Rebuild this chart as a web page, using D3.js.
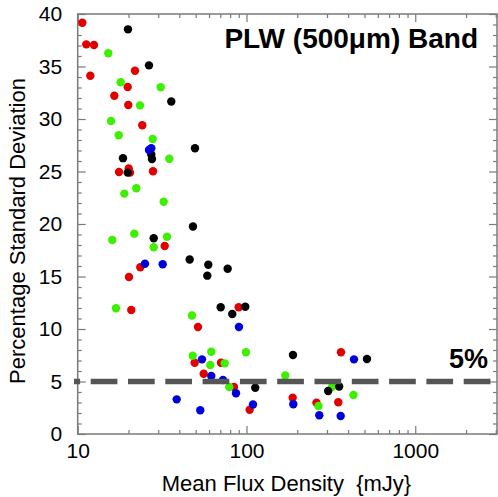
<!DOCTYPE html>
<html>
<head>
<meta charset="utf-8">
<script src="https://cdn.jsdelivr.net/npm/d3@7"></script>
<style>
  body { margin: 0; background: #fff; }
  text { font-family: Arial, "Liberation Sans", sans-serif; }
</style>
</head>
<body>
<script>
// flux density (mJy) and percentage standard deviation, one pair of arrays per colour
const redFlux = [10.65, 11.24, 12.49, 11.88, 21.85, 19.78, 16.48, 19.94, 24.14, 17.57, 20.05, 20.41, 27.93, 32.77, 23.49, 20.13, 20.77, 51.6, 49.33, 55.78, 70.62, 84.33, 89.91, 104.4, 187.8, 259.8, 349.9, 362.9];
const redSd   = [39.17, 37.11, 37.05, 34.12, 34.6, 33.05, 32.22, 31.33, 29.4, 24.95, 25.3, 24.89, 25.02, 17.9, 15.88, 14.95, 11.81, 10.19, 6.79, 5.74, 6.79, 4.48, 12.07, 2.31, 3.46, 2.97, 3.03, 7.78];

const greenFlux = [15.18, 17.97, 31.02, 23.39, 15.75, 17.5, 27.82, 34.89, 18.89, 22.24, 32.32, 16.03, 21.64, 33.81, 28.2, 16.86, 47.55, 48.01, 61.88, 61.03, 74.27, 99.3, 79.08, 169.8, 267, 321, 430.4];
const greenSd   = [36.26, 33.5, 33.02, 31.3, 29.81, 28.45, 28.1, 26.22, 22.89, 23.4, 22.12, 18.48, 19.08, 18.79, 17.78, 11.98, 11.29, 7.46, 7.84, 6.57, 6.73, 7.78, 4.48, 5.57, 2.67, 4.48, 3.71];

const blackFlux = [19.86, 26.45, 35.85, 49.54, 18.55, 27.29, 27.55, 19.78, 48.2, 28.2, 46.07, 59.39, 58.59, 77.36, 70.34, 82.38, 98.36, 112.7, 188.6, 304.8, 354.2, 517.5];
const blackSd   = [38.54, 35.11, 31.67, 27.21, 26.27, 26.62, 26.19, 24.89, 19.76, 18.64, 16.62, 16.12, 15.08, 15.74, 12.07, 11.43, 12.12, 4.4, 7.52, 4.1, 4.52, 7.14];

const blueFlux = [26.45, 27.29, 25.04, 31.88, 38.6, 53.24, 54.49, 61.88, 72.57, 86.66, 90.27, 109.3, 189.4, 270, 361.5, 433.4];
const blueSd   = [27.05, 27.21, 16.22, 16.16, 3.3, 2.26, 7.11, 5.52, 5.14, 3.88, 10.19, 2.81, 2.83, 1.78, 1.71, 7.11];

const xMajorTicks = [10, 100, 1000];
const yMajorTicks = [0, 5, 10, 15, 20, 25, 30, 35, 40];
const threshold = 5;

const series = [
  { flux: redFlux, sd: redSd, color: "#e00000" },
  { flux: greenFlux, sd: greenSd, color: "#3cf000" },
  { flux: blackFlux, sd: blackSd, color: "#000000" },
  { flux: blueFlux, sd: blueSd, color: "#0000dd" }
];

const width = 498, height = 497;
const plotLeft = 77.7, plotRight = 497, plotTop = 14, plotBottom = 434;
const axisColor = "#7a7a7a";

const svg = d3.select("body").append("svg")
  .attr("width", width)
  .attr("height", height);

const x = d3.scaleLog().domain([10, 3050]).range([plotLeft, plotRight]);
const y = d3.scaleLinear().domain([0, 40]).range([plotBottom, plotTop]);

// minor tick positions
const xMinor = [];
[10, 100, 1000].forEach(d => {
  for (let k = 2; k <= 9; k++) if (d * k < 3050) xMinor.push(d * k);
});
const yMinor = d3.range(0, 41).filter(v => v % 5 !== 0);

function styleAxis(g) {
  g.select(".domain").remove();
  g.selectAll("line").attr("stroke", axisColor).attr("stroke-width", 1.2);
  g.selectAll("text").attr("fill", "#000").style("font-size", "21px");
}

// bottom
svg.append("g").attr("transform", `translate(0,${plotBottom})`)
  .call(d3.axisBottom(x).tickValues(xMajorTicks).tickFormat(d3.format("d"))
    .tickSize(-8).tickPadding(9))
  .call(styleAxis);
svg.append("g").attr("transform", `translate(0,${plotBottom})`)
  .call(d3.axisBottom(x).tickValues(xMinor).tickFormat("").tickSize(-4))
  .call(styleAxis);
// top
svg.append("g").attr("transform", `translate(0,${plotTop})`)
  .call(d3.axisTop(x).tickValues(xMajorTicks).tickFormat("").tickSize(-8))
  .call(styleAxis);
svg.append("g").attr("transform", `translate(0,${plotTop})`)
  .call(d3.axisTop(x).tickValues(xMinor).tickFormat("").tickSize(-4))
  .call(styleAxis);
// left
svg.append("g").attr("transform", `translate(${plotLeft},0)`)
  .call(d3.axisLeft(y).tickValues(yMajorTicks).tickSize(-8).tickPadding(15.5))
  .call(styleAxis);
svg.append("g").attr("transform", `translate(${plotLeft},0)`)
  .call(d3.axisLeft(y).tickValues(yMinor).tickFormat("").tickSize(-4))
  .call(styleAxis);
// right
svg.append("g").attr("transform", `translate(${plotRight},0)`)
  .call(d3.axisRight(y).tickValues(yMajorTicks).tickFormat("").tickSize(-8))
  .call(styleAxis);
svg.append("g").attr("transform", `translate(${plotRight},0)`)
  .call(d3.axisRight(y).tickValues(yMinor).tickFormat("").tickSize(-4))
  .call(styleAxis);

// frame
svg.append("rect")
  .attr("x", plotLeft).attr("y", plotTop)
  .attr("width", plotRight - plotLeft).attr("height", plotBottom - plotTop)
  .attr("fill", "none").attr("stroke", axisColor).attr("stroke-width", 1.5);

// points
series.forEach(s => {
  svg.append("g").selectAll("circle")
    .data(s.flux.map((f, i) => [f, s.sd[i]]))
    .join("circle")
    .attr("cx", d => x(d[0]))
    .attr("cy", d => y(d[1]))
    .attr("r", 4.2)
    .attr("fill", s.color);
});

// 5% threshold line
svg.append("line")
  .attr("x1", plotLeft - 3.7).attr("x2", 490.7)
  .attr("y1", y(threshold)).attr("y2", y(threshold))
  .attr("stroke", "#555")
  .attr("stroke-width", 5.5)
  .attr("stroke-dasharray", "26.7 10.6")
  .attr("stroke-dashoffset", 20.6);

svg.append("text")
  .attr("x", 488).attr("y", 368)
  .attr("text-anchor", "end")
  .style("font-size", "27px").style("font-weight", "bold")
  .text("5%");

svg.append("text")
  .attr("x", 478).attr("y", 47.7)
  .attr("text-anchor", "end")
  .style("font-size", "28px").style("font-weight", "bold")
  .text("PLW (500μm) Band");

// axis titles
svg.append("text")
  .attr("x", 286.5).attr("y", 490.5)
  .attr("text-anchor", "middle")
  .style("font-size", "22px")
  .style("white-space", "pre")
  .text("Mean Flux Density  {mJy}");

svg.append("text")
  .attr("transform", "translate(25,231) rotate(-90)")
  .attr("text-anchor", "middle")
  .style("font-size", "22px")
  .text("Percentage Standard Deviation");
</script>
</body>
</html>
